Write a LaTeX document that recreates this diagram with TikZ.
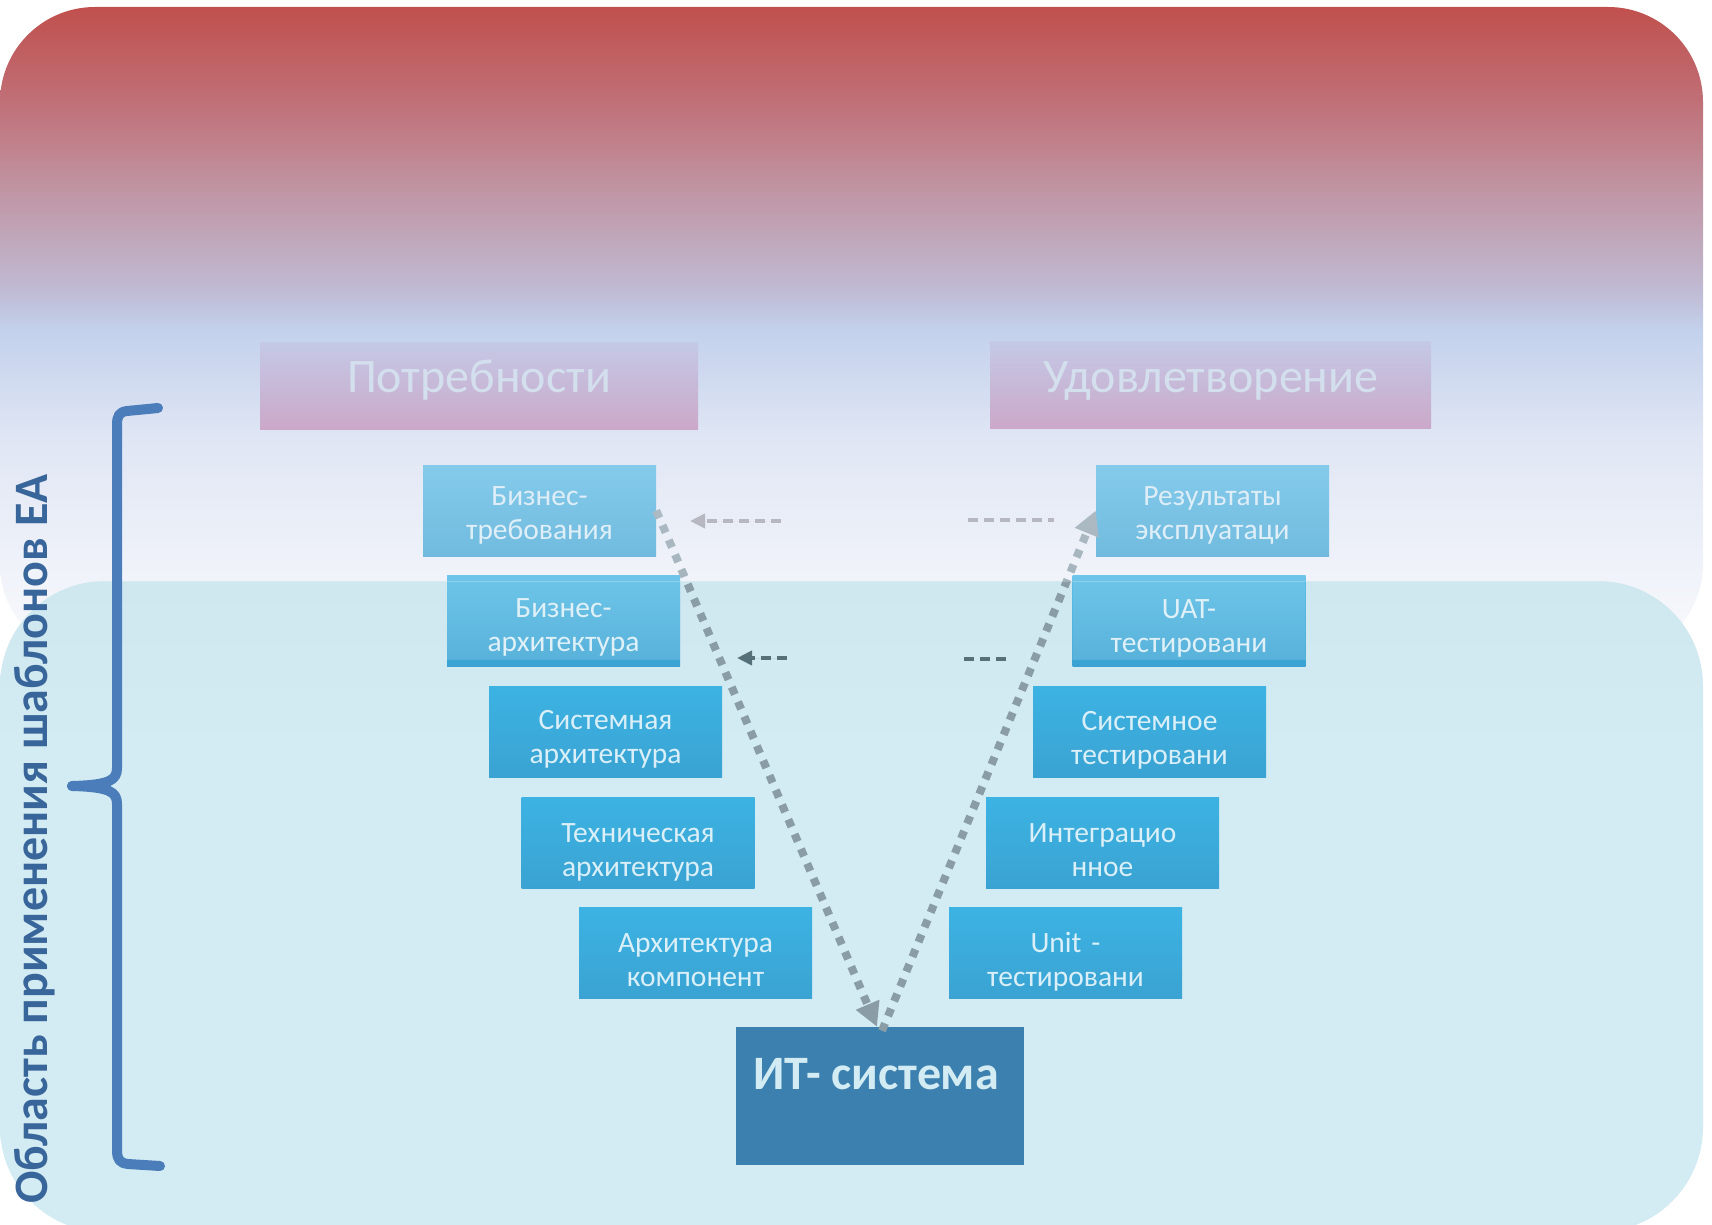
\documentclass[tikz,border=0pt]{standalone}
\usepackage{fontspec}
\setmainfont{Carlito}
\usetikzlibrary{arrows.meta,fadings}

% palette
\definecolor{c7}{HTML}{C0504D}
\definecolor{c100}{HTML}{C06F76}
\definecolor{c200}{HTML}{C099A8}
\definecolor{c290}{HTML}{C0BAD3}
\definecolor{c330}{HTML}{C3D1EC}
\definecolor{c440}{HTML}{E0E6F4}
\definecolor{c659}{HTML}{FAFBFD}
\definecolor{lowtop}{HTML}{CFE7EE}
\definecolor{lowfield}{HTML}{D3EBF2}
\definecolor{boxtop}{HTML}{3CB3E3}
\definecolor{boxbot}{HTML}{3AA3D3}
\definecolor{boxtxt}{HTML}{DAEFF7}
\definecolor{itblue}{HTML}{3B80AF}
\definecolor{ittxt}{HTML}{D3EBF2}
\definecolor{headtop}{HTML}{C4C9E6}
\definecolor{headbot}{HTML}{CBA8C9}
\definecolor{headtxt}{HTML}{D4DFEE}
\definecolor{dotgray}{HTML}{8A9DA6}
\definecolor{dashlight}{HTML}{9A99A2}
\definecolor{dashdark}{HTML}{56707A}
\definecolor{braceblue}{HTML}{4A7DBA}
\definecolor{scopeblue}{HTML}{39669A}

% vertical gradient of the upper panel: red at the top, light blue, then almost white
\pgfdeclareverticalshading{skyfall}{100bp}{%
  color(0bp)=(c659); color(25bp)=(c659); color(41.8bp)=(c440);
  color(50.2bp)=(c330); color(53.3bp)=(c290); color(60.2bp)=(c200);
  color(67.9bp)=(c100); color(75bp)=(c7); color(100bp)=(c7)}

% lower panel: slightly darker along its top edge
\pgfdeclareverticalshading{lowpanel}{100bp}{%
  color(0bp)=(lowfield); color(62bp)=(lowfield); color(75bp)=(lowtop); color(100bp)=(lowtop)}

% the lower part of the upper panel lies semi-transparently over the blocks
\tikzfading[name=veil, top color=transparent!53, bottom color=transparent!84]

\tikzset{
  vbox/.style={rectangle, minimum width=233pt, minimum height=91pt, inner sep=0pt,
    top color=boxtop, bottom color=boxbot},
  vtext/.style={font=\fontsize{29.5}{34}\selectfont, text=boxtxt, align=center,
    text width=232pt, anchor=base, inner sep=0pt},
  headbox/.style={rectangle, minimum height=87pt, inner sep=0pt,
    top color=headtop, bottom color=headbot},
  headtext/.style={font=\fontsize{48}{58}\selectfont, text=headtxt, anchor=base, inner sep=0pt},
  dotline/.style={line width=8pt, dash pattern=on 8pt off 8pt, draw=dotgray,
    -{Triangle[length=24pt,width=24pt,fill=dotgray]}},
  dashline/.style={line width=4pt, dash pattern=on 10pt off 6pt},
  dashtip/.style={-{Triangle[length=15pt,width=14pt]}},
  bracepath/.style={line width=10pt, draw=braceblue, line cap=round, line join=round},
  veilfill/.style={top color=c440, bottom color=c659, path fading=veil},
}

\begin{document}
\begin{tikzpicture}[x=1pt,y=-1pt]
\useasboundingbox (0,0) rectangle (1712,1225);
\begin{scope}
\clip (0,0) rectangle (1712,1225);

% upper panel
\shade[shading=skyfall, rounded corners=95] (0,7) rectangle (1703,659);
% lower panel
\shade[shading=lowpanel, rounded corners=105] (0,581) rectangle (1703,1232);

% left branch of the V
\node[vbox] (b1) at (539.5,510.5) {};
\node[vbox] (b2) at (563.5,621) {};
\node[vbox] (b3) at (605.5,731.5) {};
\node[vbox] (b4) at (638,842.5) {};
\node[vbox] (b5) at (695.5,953) {};
% right branch of the V
\node[vbox] (r1) at (1212.5,510.5) {};
\node[vbox] (r2) at (1189,621) {};
\node[vbox] (r3) at (1149.5,731.5) {};
\node[vbox] (r4) at (1102.5,842.5) {};
\node[vbox] (r5) at (1065.5,953) {};

\node[vtext] (tb1) at (539.5,505) {Бизнес-\\требования};
\node[vtext] (tb2) at (563.5,617) {Бизнес-\\архитектура};
\node[vtext] (tb3) at (605.5,729) {Системная\\архитектура};
\node[vtext] (tb4) at (638,842) {Техническая\\архитектура};
\node[vtext] (tb5) at (695.5,952) {Архитектура\\компонент};
\node[vtext] (tr1) at (1212.5,505) {Результаты\\эксплуатаци};
\node[vtext] (tr2) at (1189,618) {UAT-\\тестировани};
\node[vtext] (tr3) at (1149.5,730) {Системное\\тестировани};
\node[vtext] (tr4) at (1102.5,842) {Интеграцио\\нное};
\node[vtext] (tr5) at (1065.5,952) {Unit -\\тестировани};

% bottom of the V
\node[rectangle, fill=itblue, minimum width=288pt, minimum height=138pt, inner sep=0pt] (it) at (880,1096) {};
\node[font=\bfseries\fontsize{48}{58}\selectfont, text=ittxt, anchor=base, inner sep=0pt] (itt) at (876,1089) {ИТ- система};

% dotted V arrows
\draw[dotline] (b1.east) -- ([xshift=-3pt]it.north);
\draw[dotline] ([xshift=2pt,yshift=-4pt]it.north) -- (r1.west);

% dashed links between the branches
\coordinate (da1) at (781,521);
\coordinate (da1e) at (690,521);
\coordinate (db1) at (968,520);
\coordinate (db1e) at (1054,520);
\coordinate (da2) at (787,658);
\coordinate (da2e) at (737,658);
\coordinate (db2) at (964,659);
\coordinate (db2e) at (1008,659);
\draw[dashline, draw=dashlight, dashtip, fill=dashlight] (da1) -- (da1e);
\draw[dashline, draw=dashlight] (db1) -- (db1e);
\draw[dashline, draw=dashdark, dashtip, fill=dashdark] (da2) -- (da2e);
\draw[dashline, draw=dashdark] (db2) -- (db2e);

% translucent lower edge of the upper panel, above the lower panel
\begin{scope}
  \clip[rounded corners=95] (0,7) rectangle (1703,659);
  \clip (0,0) rectangle (1712,581);
  \shade[veilfill] (0,440) rectangle (1703,659);
\end{scope}
% ... and where it still covers the second row of blocks
\begin{scope}
  \clip (b2.north west) rectangle (b2.south east) (r2.north west) rectangle (r2.south east);
  \clip (0,581) rectangle (1712,659);
  \shade[veilfill] (0,440) rectangle (1703,659);
\end{scope}

% column headings
\node[headbox, minimum width=438pt] (need) at (479,385.5) {};
\node[headbox, minimum width=441pt] (sat) at (1210.5,385) {};
\node[headtext] (needt) at (479,392) {Потребности};
\node[headtext] (satt) at (1211,392) {Удовлетворение};

% scope brace and its caption
\draw[bracepath] (158,408) -- (127,411) .. controls (119,412) and (117,416) .. (117,425)
  -- (117,768) .. controls (117,780) and (110,785) .. (72,786);
\draw[bracepath] (72,786) .. controls (110,787) and (117,792) .. (117,804)
  -- (117,1150) .. controls (117,1160) and (120,1163) .. (128,1164) -- (160,1166);
\node[rotate=90, anchor=base, inner sep=0pt, text=scopeblue,
  font=\bfseries\fontsize{48}{58}\selectfont] (scope) at (47,839) {Область применения шаблонов ЕА};
\end{scope}
\end{tikzpicture}
\end{document}
